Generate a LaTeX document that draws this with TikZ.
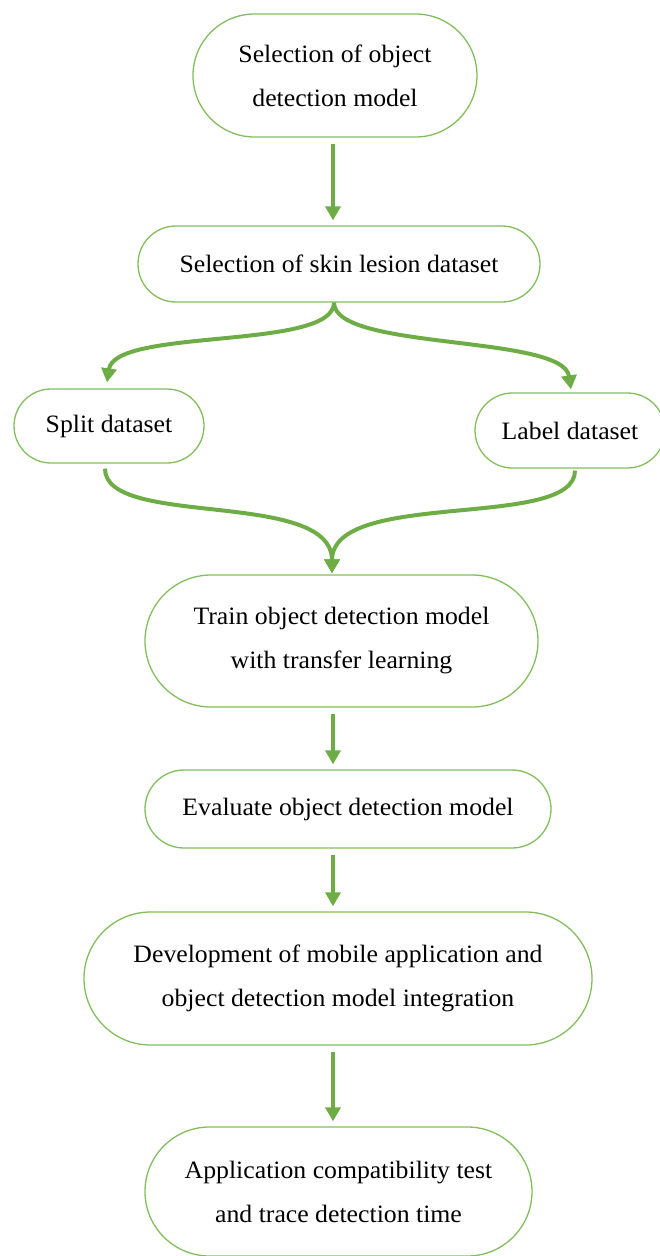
\documentclass[tikz,border=0pt]{standalone}
\usepackage{fontspec}
\setmainfont{Liberation Serif}[FakeStretch=1.03]
\usetikzlibrary{shapes.misc,arrows.meta,calc}
\definecolor{boxgreen}{HTML}{82BE5C}
\definecolor{arrgreen}{HTML}{6EAD45}
\tikzset{
  box/.style={rounded rectangle, draw=boxgreen, line width=1.3pt, inner sep=0pt,
    align=center, font=\fontsize{25}{44}\selectfont},
  flow/.style={draw=arrgreen, line width=4pt, -{Triangle[width=15pt,length=14pt]}},
  vflow/.style={flow, shorten <=6pt, shorten >=5pt},
}
\begin{document}
\begin{tikzpicture}[x=1pt,y=-1pt]
\useasboundingbox (0,0) rectangle (659,1256);
\node[box, minimum width=284pt, minimum height=123pt] (model) at (335,75.5)
  {Selection of object\\detection model};
\node[box, minimum width=402pt, minimum height=76pt] (skin) at (339,264)
  {Selection of skin lesion dataset};
\node[box, minimum width=190pt, minimum height=74pt] (split) at (109,426)
  {Split dataset};
\node[box, minimum width=190pt, minimum height=75pt] (label) at (570,430.5)
  {Label dataset};
\node[box, minimum width=393pt, minimum height=132pt] (train) at (341.5,641)
  {Train object detection model\\with transfer learning};
\node[box, minimum width=406pt, minimum height=78pt] (eval) at (348,809)
  {Evaluate object detection model};
\node[box, minimum width=508pt, minimum height=133pt] (dev) at (338,978.5)
  {Development of mobile application and\\object detection model integration};
\node[box, minimum width=387pt, minimum height=129pt] (app) at (338.5,1191.5)
  {Application compatibility test\\and trace detection time};

\coordinate (col) at (333,0);
\coordinate (fork) at ($(skin.south)+(-5,0)$);
\coordinate (join) at ($(train.north)+(-9.5,-1)$);
\coordinate (splitin) at ($(split.north)+(-2,-6)$);
\coordinate (labelin) at ($(label.north)+(1,-3)$);

\draw[vflow] (model.south -| col) -- (skin.north -| col);
\draw[flow] (fork) .. controls +(0,48) and +(8,-55) .. (splitin);
\draw[flow] (fork) .. controls +(0,48) and +(-8,-55) .. (labelin);
\draw[flow] ($(split.south)+(-4,5)$) .. controls +(0,60) and +(0,-85) .. (join);
\draw[flow] ($(label.south)+(5,2)$) .. controls +(0,60) and +(0,-85) .. (join);
\draw[vflow] (train.south -| col) -- (eval.north -| col);
\draw[vflow] (eval.south -| col) -- (dev.north -| col);
\draw[vflow] (dev.south -| col) -- (app.north -| col);
\end{tikzpicture}
\end{document}
